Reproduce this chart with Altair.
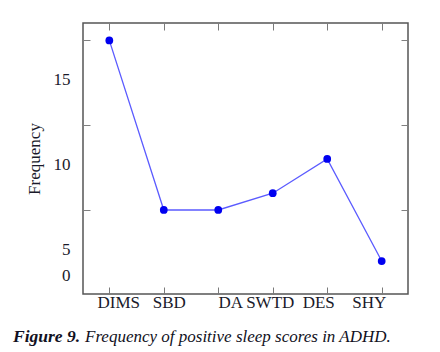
import altair as alt
import pandas as pd

# ---- data ----
categories = ["DIMS", "SBD", "DA", "SWTD", "DES", "SHY"]
frequency = [17.34, 7.31, 7.31, 8.30, 10.33, 4.29]

# tick marks (inward) and the printed y labels, as drawn in the reference
y_tick_values = [17.35, 12.35, 7.31]
y_label_values = [15, 10, 5, 3.46]
y_label_text = ["15", "10", "5", "0"]
x_label_shift = [9, 5, 12, -3, -9, -13]

caption_bold = "Figure 9."
caption_rest = "Frequency of positive sleep scores in ADHD."

df = pd.DataFrame({"cat": categories, "freq": frequency})
cap_df = pd.DataFrame({"a": [caption_bold], "b": [caption_rest]})

W, H = 325, 271
FONT = "Liberation Serif"

all_y_values = y_tick_values + y_label_values
label_expr = " : ".join(
    f"abs(datum.value - {v}) < 0.001 ? '{t}'" for v, t in zip(y_label_values, y_label_text)
) + " : ''"
tick_test = " || ".join(f"abs(datum.value - {v}) < 0.001" for v in y_tick_values)
x_off_expr = " : ".join(
    f"datum.value == '{c}' ? {o}" for c, o in zip(categories, x_label_shift)
) + " : 0"

x_enc = alt.X(
    "cat:N",
    sort=categories,
    scale=alt.Scale(type="point", padding=0.483),
    axis=alt.Axis(
        title=None,
        domain=False,
        ticks=False,
        tickSize=0,
        labelAngle=0,
        labelFont=FONT,
        labelFontSize=17,
        labelColor="#1a1a2a",
        labelPadding=0,
        labelOffset=alt.expr(x_off_expr),
        grid=True,
        gridColor="#7a7a7a",
        gridWidth=1,
        gridDash=[7, H - 14, 7, 1000],
    ),
)
y_enc = alt.Y(
    "freq:Q",
    scale=alt.Scale(domain=[2.34, 18.37], nice=False, zero=False),
    axis=alt.Axis(
        title="Frequency",
        titleFont=FONT,
        titleFontSize=17,
        titleFontWeight="normal",
        titleColor="#1a1a2a",
        titlePadding=10,
        values=all_y_values,
        labelExpr=label_expr,
        labelFont=FONT,
        labelFontSize=17,
        labelColor="#1a1a2a",
        labelPadding=13,
        domain=False,
        ticks=False,
        tickSize=0,
        grid=True,
        gridWidth=1,
        gridColor=alt.expr(f"({tick_test}) ? '#808080' : 'transparent'"),
        gridDash=[7, W - 14, 7, 1000],
    ),
)

line = alt.Chart(df).mark_line(color="#5b5bff", strokeWidth=1.3).encode(x=x_enc, y=y_enc)
pts = alt.Chart(df).mark_point(filled=True, color="#0000f0", size=60, opacity=1).encode(
    x=alt.X("cat:N", sort=categories), y="freq:Q"
)

cap1 = alt.Chart(cap_df).mark_text(
    font=FONT, fontSize=17.5, fontStyle="italic", fontWeight="bold",
    align="left", baseline="alphabetic", color="#111122",
).encode(text="a:N", x=alt.value(-70), y=alt.value(319))
cap2 = alt.Chart(cap_df).mark_text(
    font=FONT, fontSize=17, fontStyle="italic", fontWeight="normal",
    align="left", baseline="alphabetic", color="#111122",
).encode(text="b:N", x=alt.value(2), y=alt.value(319))

chart = (
    alt.layer(line, pts, cap1, cap2)
    .properties(
        width=W,
        height=H,
        autosize=alt.AutoSizeParams(type="none"),
        padding={"left": 83, "top": 23, "right": 32, "bottom": 58},
        background="white",
    )
    .configure_view(stroke="#555555", strokeWidth=1.5)
)

chart.save("out.html", embed_options={"renderer": "svg", "actions": False})
